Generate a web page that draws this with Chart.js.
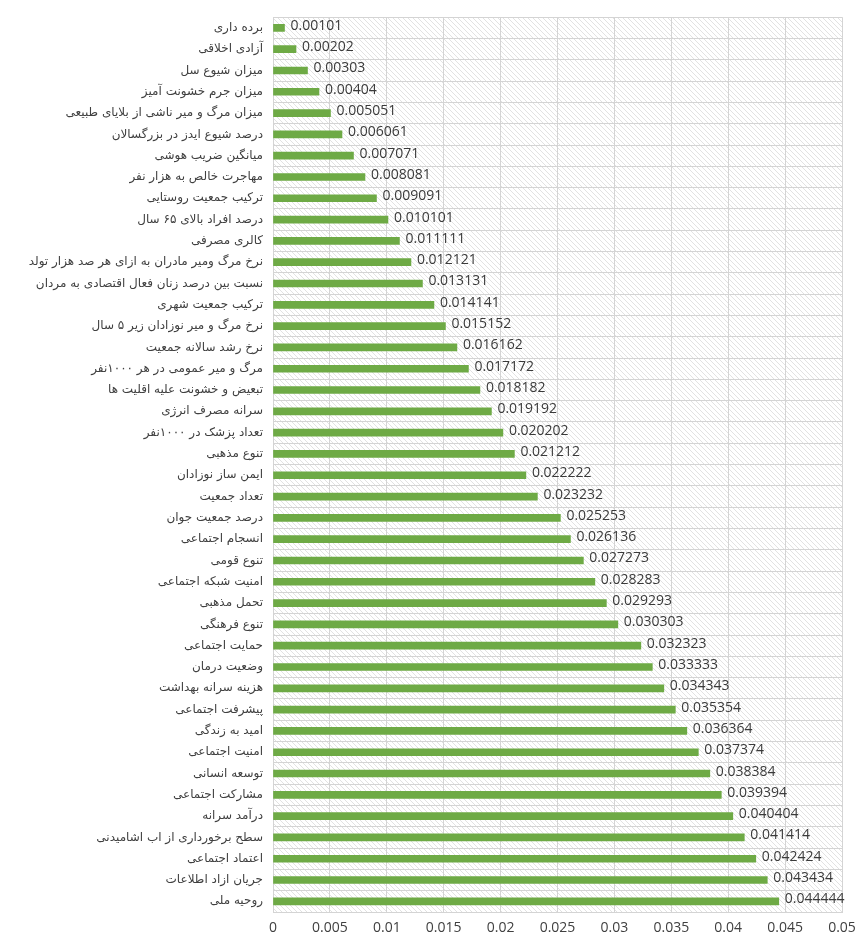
<!DOCTYPE html>
<html>
<head>
<meta charset="utf-8">
<script src="https://cdn.jsdelivr.net/npm/chart.js@4"></script>
<style>
    html, body { margin: 0; padding: 0; background: #fff; }
    #wrap { width: 858px; height: 940px; }
</style>
</head>
<body>
<div id="wrap"><canvas id="chart" width="858" height="940"></canvas></div>
<script>
// kategorie (od góry do dołu)
const categories = [
    "برده داری",
    "آزادی اخلاقی",
    "میزان شیوع سل",
    "میزان جرم خشونت آمیز",
    "میزان مرگ و میر ناشی از بلایای طبیعی",
    "درصد شیوع ایدز در بزرگسالان",
    "میانگین ضریب هوشی",
    "مهاجرت خالص به هزار نفر",
    "ترکیب جمعیت روستایی",
    "درصد افراد بالای ۶۵ سال",
    "کالری مصرفی",
    "نرخ مرگ ومیر مادران به ازای هر صد هزار تولد",
    "نسبت بین درصد زنان فعال اقتصادی به مردان",
    "ترکیب جمعیت شهری",
    "نرخ مرگ و میر نوزادان زیر ۵ سال",
    "نرخ رشد سالانه جمعیت",
    "مرگ و میر عمومی در هر ۱۰۰۰نفر",
    "تبعیض و خشونت علیه اقلیت ها",
    "سرانه مصرف انرژی",
    "تعداد پزشک در ۱۰۰۰نفر",
    "تنوع مذهبی",
    "ایمن ساز نوزادان",
    "تعداد جمعیت",
    "درصد جمعیت جوان",
    "انسجام اجتماعی",
    "تنوع قومی",
    "امنیت شبکه اجتماعی",
    "تحمل مذهبی",
    "تنوع فرهنگی",
    "حمایت اجتماعی",
    "وضعیت درمان",
    "هزینه سرانه بهداشت",
    "پیشرفت اجتماعی",
    "امید به زندگی",
    "امنیت اجتماعی",
    "توسعه انسانی",
    "مشارکت اجتماعی",
    "درآمد سرانه",
    "سطح برخورداری از اب اشامیدنی",
    "اعتماد اجتماعی",
    "جریان ازاد اطلاعات",
    "روحیه ملی"
];

const weights = [
    0.00101, 0.00202, 0.00303, 0.00404, 0.005051, 0.006061, 0.007071,
    0.008081, 0.009091, 0.010101, 0.011111, 0.012121, 0.013131, 0.014141,
    0.015152, 0.016162, 0.017172, 0.018182, 0.019192, 0.020202, 0.021212,
    0.022222, 0.023232, 0.025253, 0.026136, 0.027273, 0.028283, 0.029293,
    0.030303, 0.032323, 0.033333, 0.034343, 0.035354, 0.036364, 0.037374,
    0.038384, 0.039394, 0.040404, 0.041414, 0.042424, 0.043434, 0.044444
];

const xTicks = [0, 0.005, 0.01, 0.015, 0.02, 0.025, 0.03, 0.035, 0.04, 0.045, 0.05];

// tło w ukośne paski
function makeHatch() {
    const c = document.createElement("canvas");
    c.width = 5; c.height = 5;
    const g = c.getContext("2d");
    g.strokeStyle = "#e2e2e2";
    g.lineWidth = 1;
    g.beginPath();
    g.moveTo(0, 0); g.lineTo(5, 5);
    g.moveTo(-3, 2); g.lineTo(3, 8);
    g.moveTo(2, -3); g.lineTo(8, 3);
    g.stroke();
    return c;
}

const hatchBg = {
    id: "hatchBg",
    beforeDraw(chart) {
        const { ctx, chartArea: a } = chart;
        ctx.save();
        ctx.fillStyle = ctx.createPattern(makeHatch(), "repeat");
        ctx.fillRect(a.left, a.top, a.right - a.left, a.bottom - a.top);
        ctx.restore();
    }
};

// etykiety wartości za słupkami
const valueLabels = {
    id: "valueLabels",
    afterDatasetsDraw(chart) {
        const { ctx } = chart;
        const meta = chart.getDatasetMeta(0);
        ctx.save();
        ctx.font = "14px 'Open Sans', 'DejaVu Sans', sans-serif";
        ctx.fillStyle = "#3a3a3a";
        ctx.textAlign = "left";
        ctx.textBaseline = "middle";
        meta.data.forEach((bar, i) => {
            ctx.fillText(String(weights[i]), bar.x + 6, bar.y - 2);
        });
        ctx.restore();
    }
};

new Chart(document.getElementById("chart"), {
    type: "bar",
    data: {
        labels: categories,
        datasets: [{
            data: weights,
            backgroundColor: "#6eaa45",
            barThickness: 7
        }]
    },
    options: {
        indexAxis: "y",
        responsive: false,
        animation: false,
        layout: { padding: { left: 0, right: 16, top: 10, bottom: 0 } },
        plugins: { legend: { display: false }, tooltip: { enabled: false } },
        scales: {
            x: {
                min: 0,
                max: 0.05,
                afterBuildTicks: s => { s.ticks = xTicks.map(v => ({ value: v })); },
                afterFit: s => { s.height = 28; s.paddingRight = 0; s.paddingLeft = 0; },
                grid: { color: "#d4d4d4", drawTicks: false },
                border: { color: "#d4d4d4" },
                ticks: {
                    padding: 8,
                    color: "#404040",
                    font: { size: 14, family: "'Open Sans', 'DejaVu Sans', sans-serif" },
                    callback: v => String(+Number(v).toFixed(3))
                }
            },
            y: {
                afterFit: s => { s.width = 273; },
                grid: { color: "#d4d4d4", drawTicks: false },
                border: { color: "#d4d4d4" },
                ticks: {
                    autoSkip: false,
                    padding: 10,
                    color: "#404040",
                    font: { size: 12, family: "'DejaVu Sans', sans-serif" }
                }
            }
        }
    },
    plugins: [hatchBg, valueLabels]
});
</script>
</body>
</html>
